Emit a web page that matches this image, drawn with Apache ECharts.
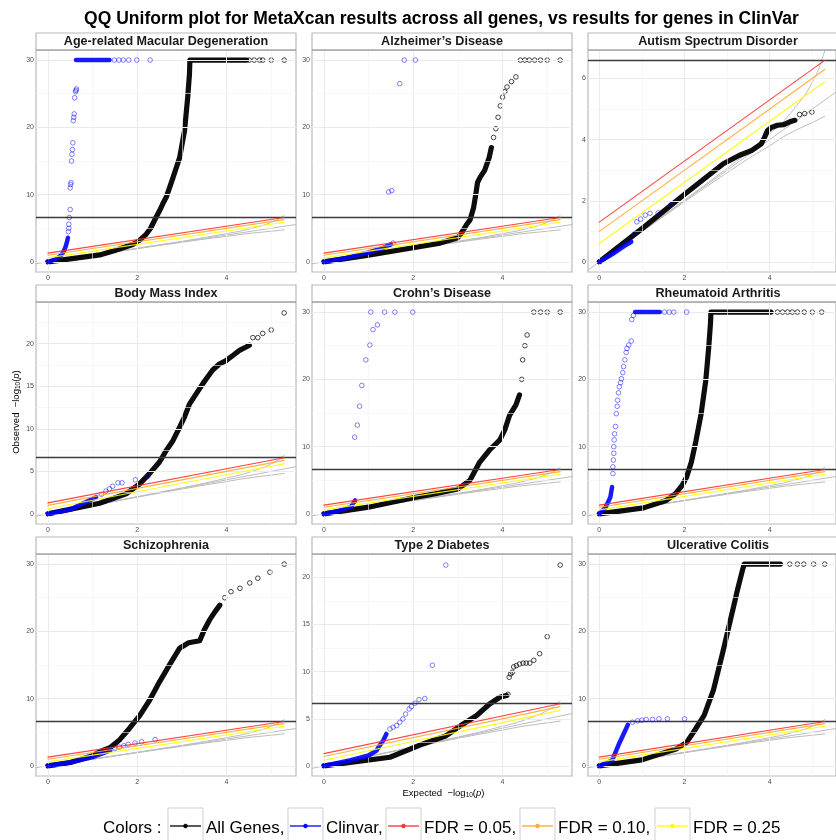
<!DOCTYPE html>
<html><head><meta charset="utf-8">
<script src="https://cdn.jsdelivr.net/npm/echarts@6/dist/echarts.min.js"></script>
<style>html,body{margin:0;padding:0;background:#fff}#c{width:836px;height:840px}</style>
</head><body><div id="c"></div><script>
// ---------------- data ----------------
const panelTitles = ['Age-related Macular Degeneration', 'Alzheimer\u2019s Disease', 'Autism Spectrum Disorder',
  'Body Mass Index', 'Crohn\u2019s Disease', 'Rheumatoid Arthritis',
  'Schizophrenia', 'Type 2 Diabetes', 'Ulcerative Colitis'];
const panelYMax = [30, 30, 6.6, 23.7, 30, 30, 30, 21.4, 30];
const yMajorTicks = [[0,10,20,30],[0,10,20,30],[0,2,4,6],[0,5,10,15,20],[0,10,20,30],[0,10,20,30],[0,10,20,30],[0,5,10,15,20],[0,10,20,30]];
const yMinorTicks = [[5,15,25],[5,15,25],[1,3,5],[2.5,7.5,12.5,17.5,22.5],[5,15,25],[5,15,25],[5,15,25],[2.5,7.5,12.5,17.5],[5,15,25]];
const xMajorTicks = [0, 2, 4];
const xMinorTicks = [1, 3, 5];
const bonferroni = 6.6;
const fdrLevels = ['FDR = 0.05', 'FDR = 0.10', 'FDR = 0.25'];
const fdr05Line = [[0, 1.30], [5.29, 6.59]];
const fdr10Line = [[0, 1.00], [5.29, 6.29]];
const fdr25Line = [[0, 0.60], [5.29, 5.89]];
const ciUpper = [[0,0],[2,2.02],[3,3.06],[3.5,3.6],[4,4.2],[4.33,4.6],[4.6,5.05],[4.85,5.5],[5.03,5.95],[5.15,6.3],[5.29,6.9]];
const ciLower = [[0,0],[2,1.97],[3,2.92],[3.5,3.38],[4,3.8],[4.33,4.1],[4.6,4.3],[5.03,4.58],[5.29,4.76]];

// Age-related Macular Degeneration
const amdAllLine = [[[0,0],[0.5,0.45],[1.16,1.04],[1.5,1.7],[1.9,2.6],[2.05,3.2],[2.2,4.1],[2.3,5.0],[2.42,6.6],[2.5,7.6],[2.57,8.6],[2.65,9.6],[2.8,12.5],[2.95,15.5],[3.06,19.5],[3.13,24.4],[3.17,27.9],[3.18,30],[4.45,30]]];
const amdAllPts = [[4.51,30],[4.62,30],[4.74,30],[4.81,30],[5.0,30],[5.29,30]];
const amdClinLine = [[[0,0],[0.1,0.2],[0.2,0.5],[0.3,1.0],[0.35,1.5],[0.4,2.3],[0.43,3.0],[0.45,3.6]],[[0.63,30],[1.38,30]]];
const amdClinPts = [[0.46,4.5],[0.47,5.0],[0.47,5.6],[0.48,6.6],[0.5,7.8],[0.5,11.0],[0.51,11.5],[0.52,11.8],[0.53,15.0],[0.54,16.0],[0.55,16.7],[0.56,17.7],[0.57,21.0],[0.58,21.5],[0.59,22.0],[0.6,24.4],[0.62,25.3],[0.63,25.5],[0.64,25.7],[1.49,30],[1.59,30],[1.69,30],[1.81,30],[1.99,30],[2.29,30]];
// Alzheimer's Disease
const alzAllLine = [[[0,0],[1,1.0],[2,2.1],[2.6,2.8],[3,3.6],[3.1,4.5],[3.2,5.6],[3.27,6.2],[3.35,8],[3.4,10],[3.44,11.8],[3.5,12.6],[3.6,13.6],[3.7,15.5],[3.75,17]]];
const alzAllPts = [[3.8,18.5],[3.85,19.8],[3.9,21.5],[3.95,23.2],[4.0,24.5],[4.05,25.3],[4.1,26],[4.2,26.8],[4.3,27.5],[4.4,30],[4.5,30],[4.6,30],[4.72,30],[4.85,30],[5.0,30],[5.29,30]];
const alzClinLine = [[[0,0],[0.5,0.6],[1,1.4],[1.3,2.0],[1.5,2.6]]];
const alzClinPts = [[1.55,2.8],[1.45,10.4],[1.52,10.6],[1.7,26.5],[1.8,30],[2.05,30]];
// Autism Spectrum Disorder
const asdAllLine = [[[0,0],[1.04,1.13],[2.01,2.22],[2.91,3.21],[3.28,3.48],[3.58,3.65],[3.8,3.86],[3.88,4.08],[3.95,4.3],[4.03,4.39],[4.18,4.47],[4.33,4.49],[4.47,4.58],[4.59,4.63]]];
const asdAllPts = [[4.7,4.82],[4.82,4.85],[4.99,4.9]];
const asdClinLine = [[[0,0],[0.3,0.25],[0.6,0.53],[0.75,0.66]]];
const asdClinPts = [[0.82,0.91],[0.88,1.31],[0.97,1.4],[1.08,1.53],[1.19,1.59],[1.38,1.6],[1.68,1.87]];
// Body Mass Index
const bmiAllLine = [[[0,0],[1.16,1.25],[1.75,2.35],[2.05,3.5],[2.27,4.7],[2.5,6.1],[2.65,7.45],[2.8,8.6],[2.95,10.2],[3.06,11.4],[3.17,12.9],[3.32,14.1],[3.47,15.3],[3.58,16.1],[3.69,16.9],[3.84,17.6],[3.99,18.0],[4.14,18.6],[4.29,19.2],[4.44,19.6],[4.51,19.8]]];
const bmiAllPts = [[4.59,20.7],[4.7,20.7],[4.81,21.2],[5.0,21.6],[5.29,23.6]];
const bmiClinLine = [[[0,0],[0.5,0.5],[1.08,1.96]]];
const bmiClinPts = [[1.2,2.3],[1.3,2.67],[1.38,2.94],[1.45,3.25],[1.57,3.65],[1.66,3.65],[1.96,4.0],[2.24,4.43]];
// Crohn's Disease
const crnAllLine = [[[0,0],[1,1.0],[2,2.4],[2.5,3.0],[3,3.7],[3.27,5],[3.49,7.7],[3.71,9.5],[3.94,11],[4.05,12.5],[4.16,14.7],[4.3,16.2],[4.38,17.7]]];
const crnAllPts = [[4.43,20],[4.45,22.9],[4.5,25],[4.55,26.6],[4.7,30],[4.85,30],[5.0,30],[5.29,30]];
const crnClinLine = [[[0,0],[0.3,0.4],[0.6,1.0],[0.7,2.0]]];
const crnClinPts = [[0.69,11.4],[0.75,13.2],[0.8,16],[0.85,19.1],[0.94,22.9],[1.03,25.1],[1.1,27.4],[1.2,28.1],[1.05,30],[1.36,30],[1.59,30],[1.99,30]];
// Rheumatoid Arthritis
const raAllLine = [[[0,0],[1.04,0.9],[1.57,2.0],[1.79,3.0],[1.94,4.2],[2.05,5.5],[2.16,7.7],[2.27,10.9],[2.39,14.9],[2.5,19.9],[2.57,24.9],[2.61,28.4],[2.62,30],[4.03,30]]];
const raAllPts = [[4.18,30],[4.3,30],[4.42,30],[4.53,30],[4.65,30],[4.81,30],[5.0,30],[5.22,30]];
const raClinLine = [[[0,0],[0.15,1.0],[0.26,2.5],[0.3,4.0]],[[0.84,30],[1.42,30]]];
const raClinPts = [[0.32,6.0],[0.32,7.0],[0.33,8.0],[0.34,9],[0.34,10.0],[0.35,11],[0.36,11.9],[0.38,13],[0.4,14.9],[0.42,16],[0.43,16.9],[0.45,18],[0.47,18.9],[0.5,19.5],[0.52,20.1],[0.55,21],[0.57,21.9],[0.6,22.9],[0.63,24],[0.65,24.6],[0.69,25.1],[0.75,25.7],[0.76,28.9],[0.8,29.5],[1.53,30],[1.64,30],[1.75,30],[2.05,30]];
// Schizophrenia
const sczAllLine = [[[0,0],[0.5,0.5],[1,1.5],[1.16,2.1],[1.39,2.7],[1.61,3.9],[1.83,5.6],[2.06,7.5],[2.28,9.8],[2.5,12.5],[2.73,15.1],[2.95,17.5],[3.15,18.3],[3.4,18.6],[3.5,20.2],[3.62,21.7],[3.74,22.9],[3.85,23.9]]];
const sczAllPts = [[3.96,25],[4.1,25.9],[4.3,26.4],[4.52,27.2],[4.7,27.9],[4.97,28.8],[5.29,30]];
const sczClinLine = [[[0,0],[0.5,0.5],[1,1.3],[1.4,2.3]]];
const sczClinPts = [[1.5,2.6],[1.6,2.8],[1.7,3.0],[1.8,3.2],[1.95,3.4],[2.1,3.6],[2.4,3.9]];
// Type 2 Diabetes
const t2dAllLine = [[[0,0],[1.48,0.92],[2.22,2.33],[2.74,3.2],[3.12,4.45],[3.42,5.34],[3.71,6.57],[3.94,7.28],[4.09,7.46]]];
const t2dAllPts = [[4.12,7.6],[4.15,9.4],[4.18,9.75],[4.22,9.93],[4.25,10.5],[4.31,10.64],[4.38,10.8],[4.46,10.9],[4.53,10.9],[4.61,10.9],[4.7,11.2],[4.83,11.9],[5.0,13.7],[5.29,21.3]];
const t2dClinLine = [[[0,0],[0.6,0.6],[1.0,1.1],[1.18,1.63],[1.25,2.16],[1.33,2.69],[1.4,3.39]]];
const t2dClinPts = [[1.48,3.92],[1.55,4.1],[1.63,4.28],[1.7,4.63],[1.77,4.98],[1.83,5.5],[1.91,6.04],[1.96,6.29],[2.04,6.64],[2.13,7.03],[2.26,7.14],[2.43,10.67],[2.73,21.3]];
// Ulcerative Colitis
const ucAllLine = [[[0,0],[1,0.9],[1.8,2.5],[2.05,3.5],[2.24,5.3],[2.46,7.5],[2.68,11.3],[2.91,17.2],[3.13,23.1],[3.24,26.1],[3.36,29.1],[3.4,30],[4.25,30]]];
const ucAllPts = [[4.47,30],[4.65,30],[4.8,30],[5.03,30],[5.29,30]];
const ucClinLine = [[[0,0],[0.3,0.8],[0.45,3.1],[0.56,4.6],[0.67,6.1]]];
const ucClinPts = [[0.78,6.5],[0.9,6.7],[1.0,6.8],[1.1,6.9],[1.25,6.9],[1.4,7.0],[1.6,7.0],[2.0,7.0]];

const allLines = [amdAllLine, alzAllLine, asdAllLine, bmiAllLine, crnAllLine, raAllLine, sczAllLine, t2dAllLine, ucAllLine];
const allPts = [amdAllPts, alzAllPts, asdAllPts, bmiAllPts, crnAllPts, raAllPts, sczAllPts, t2dAllPts, ucAllPts];
const clinLines = [amdClinLine, alzClinLine, asdClinLine, bmiClinLine, crnClinLine, raClinLine, sczClinLine, t2dClinLine, ucClinLine];
const clinPts = [amdClinPts, alzClinPts, asdClinPts, bmiClinPts, crnClinPts, raClinPts, sczClinPts, t2dClinPts, ucClinPts];

// ---------------- layout / style ----------------
const FONT = 'Liberation Sans, Arial, Helvetica, sans-serif';
const COL_LEFT = [36, 312, 588], ROW_TOP = [50, 302, 554];
const PW = 260, PH = 222, STRIP = 17;
const xLo = -0.265, xHi = 5.555;
const C_ALL = '#000000', C_CLIN = '#0000ff', C_FDR = ['#ff3030', '#ffa830', '#ffff00'], C_CI = '#bdbdbd';
const C_BORDER = '#b9b9b9';

const chart = echarts.init(document.getElementById('c'), null, {renderer: 'canvas', width: 836, height: 840});
const grids = [], xAxes = [], yAxes = [], series = [], graphics = [];

function lineS(gi, data, color, width, z, opacity) {
  return {type: 'line', xAxisIndex: gi, yAxisIndex: gi, data: data, symbol: 'none', showSymbol: false,
    lineStyle: {color: color, width: width, opacity: opacity == null ? 1 : opacity, cap: 'round', join: 'round'},
    z: z, silent: true, animation: false, clip: true};
}
function ptsS(gi, data, color, z, opacity) {
  return {type: 'scatter', xAxisIndex: gi, yAxisIndex: gi, data: data, symbol: 'circle', symbolSize: 4.6,
    itemStyle: {color: 'rgba(0,0,0,0)', borderColor: color, borderWidth: 0.9, opacity: opacity},
    z: z, silent: true, animation: false, clip: true};
}

for (let i = 0; i < 9; i++) {
  const r = Math.floor(i / 3), c = i % 3;
  const M = panelYMax[i];
  const yLo = -0.05 * M, yHi = 1.05 * M;
  grids.push({left: COL_LEFT[c], top: ROW_TOP[r], width: PW, height: PH, show: true,
    backgroundColor: '#ffffff', borderColor: C_BORDER, borderWidth: 1.2, containLabel: false});
  xAxes.push({type: 'value', gridIndex: i, min: xLo, max: xHi,
    axisLine: {show: false},
    axisTick: {show: true, customValues: xMajorTicks, length: 3, lineStyle: {color: '#444', width: 0.8}},
    axisLabel: {show: true, customValues: xMajorTicks, fontSize: 7, color: '#4d4d4d', margin: 3, fontFamily: FONT},
    splitLine: {show: false}});
  yAxes.push({type: 'value', gridIndex: i, min: yLo, max: yHi,
    axisLine: {show: false},
    axisTick: {show: true, customValues: yMajorTicks[i], length: 3, lineStyle: {color: '#444', width: 0.8}},
    axisLabel: {show: true, customValues: yMajorTicks[i], fontSize: 7, color: '#4d4d4d', margin: 2, fontFamily: FONT},
    splitLine: {show: false}});
  const gl = [];
  xMinorTicks.forEach(v => gl.push({xAxis: v, lineStyle: {color: '#f2f2f2', width: 0.6, type: 'solid'}}));
  yMinorTicks[i].forEach(v => gl.push({yAxis: v, lineStyle: {color: '#f2f2f2', width: 0.6, type: 'solid'}}));
  xMajorTicks.forEach(v => gl.push({xAxis: v, lineStyle: {color: '#ebebeb', width: 1, type: 'solid'}}));
  yMajorTicks[i].forEach(v => gl.push({yAxis: v, lineStyle: {color: '#ebebeb', width: 1, type: 'solid'}}));
  series.push({type: 'line', xAxisIndex: i, yAxisIndex: i, data: [], z: 1, silent: true, animation: false,
    markLine: {silent: true, symbol: 'none', label: {show: false}, animation: false, data: gl}});
  series.push(lineS(i, [[xLo, xLo], [xHi, xHi]], C_CI, 1, 2));
  series.push(lineS(i, ciUpper, C_CI, 1, 2));
  series.push(lineS(i, ciLower, C_CI, 1, 2));
  series.push({type: 'line', xAxisIndex: i, yAxisIndex: i, data: [], z: 3, silent: true, animation: false,
    markLine: {silent: true, symbol: 'none', label: {show: false}, animation: false,
      data: [{yAxis: bonferroni, lineStyle: {color: '#3a3a3a', width: 1.3, type: 'solid'}}]}});
  allLines[i].forEach(seg => series.push(lineS(i, seg, C_ALL, 5.2, 4, 0.95)));
  series.push(ptsS(i, allPts[i], C_ALL, 4, 0.8));
  clinLines[i].forEach(seg => series.push(lineS(i, seg, C_CLIN, 4.5, 5, 0.9)));
  series.push(ptsS(i, clinPts[i], C_CLIN, 5, 0.55));
  series.push(lineS(i, fdr05Line, C_FDR[0], 1.1, 6, 0.9));
  series.push(lineS(i, fdr10Line, C_FDR[1], 1.1, 6, 0.9));
  series.push(lineS(i, fdr25Line, C_FDR[2], 1.1, 6, 0.9));
  graphics.push({type: 'rect', shape: {x: COL_LEFT[c], y: ROW_TOP[r] - STRIP, width: PW, height: STRIP},
    style: {fill: '#ffffff', stroke: C_BORDER, lineWidth: 1.2}, z: 10, silent: true});
  graphics.push({type: 'line', shape: {x1: COL_LEFT[c], y1: ROW_TOP[r], x2: COL_LEFT[c] + PW, y2: ROW_TOP[r]},
    style: {stroke: '#999999', lineWidth: 1.2}, z: 11, silent: true});
  graphics.push({type: 'text', x: COL_LEFT[c] + PW / 2, y: ROW_TOP[r] - STRIP / 2 + 0.5, z: 12, silent: true,
    style: {text: panelTitles[i], fontFamily: FONT, fontWeight: 'bold', fontSize: 12.6, fill: '#1a1a1a',
      align: 'center', verticalAlign: 'middle'}});
}

graphics.push({type: 'text', x: 441.5, y: 19, z: 12, silent: true,
  style: {text: 'QQ Uniform plot for MetaXcan results across all genes, vs results for genes in ClinVar',
    fontFamily: FONT, fontWeight: 'bold', fontSize: 17.5, fill: '#000', align: 'center', verticalAlign: 'middle'}});
const axRich = {a: {fontFamily: FONT, fontSize: 9.5, fill: '#000'}, s: {fontFamily: FONT, fontSize: 6.5, fill: '#000', padding: [5, 0, 0, 0]}, i: {fontFamily: FONT, fontSize: 9.5, fontStyle: 'italic', fill: '#000'}};
graphics.push({type: 'text', x: 443.5, y: 793, z: 12, silent: true,
  style: {text: '{a|Expected  \u2212log}{s|10}{a|(}{i|p}{a|)}', rich: axRich, align: 'center', verticalAlign: 'middle'}});
graphics.push({type: 'text', x: 16, y: 412, rotation: Math.PI / 2, z: 12, silent: true,
  style: {text: '{a|Observed  \u2212log}{s|10}{a|(}{i|p}{a|)}', rich: axRich, align: 'center', verticalAlign: 'middle'}});

const legendLabels = ['All Genes,', 'Clinvar,', fdrLevels[0] + ',', fdrLevels[1] + ',', fdrLevels[2]];
const legendColors = [C_ALL, C_CLIN, C_FDR[0], C_FDR[1], C_FDR[2]];
const keyX = [168, 288, 386, 520, 655], textX = [206, 326, 424, 558, 693];
const LEG_Y = 828;
graphics.push({type: 'text', x: 103, y: LEG_Y, z: 12, silent: true,
  style: {text: 'Colors :', fontFamily: FONT, fontSize: 17, fill: '#000', align: 'left', verticalAlign: 'middle'}});
for (let k = 0; k < 5; k++) {
  graphics.push({type: 'rect', shape: {x: keyX[k], y: 808, width: 35, height: 38},
    style: {fill: '#ffffff', stroke: '#cfcfcf', lineWidth: 1}, z: 12, silent: true});
  graphics.push({type: 'line', shape: {x1: keyX[k] + 2, y1: 826, x2: keyX[k] + 33, y2: 826},
    style: {stroke: legendColors[k], lineWidth: 1.3}, z: 13, silent: true});
  graphics.push({type: 'circle', shape: {cx: keyX[k] + 17.5, cy: 826, r: 2},
    style: {fill: legendColors[k], stroke: legendColors[k], lineWidth: 0.5}, z: 13, silent: true});
  graphics.push({type: 'text', x: textX[k], y: LEG_Y, z: 12, silent: true,
    style: {text: legendLabels[k], fontFamily: FONT, fontSize: 17, fill: '#000', align: 'left', verticalAlign: 'middle'}});
}

chart.setOption({
  animation: false,
  backgroundColor: '#ffffff',
  grid: grids, xAxis: xAxes, yAxis: yAxes, series: series,
  graphic: {elements: graphics}
});
</script></body></html>
